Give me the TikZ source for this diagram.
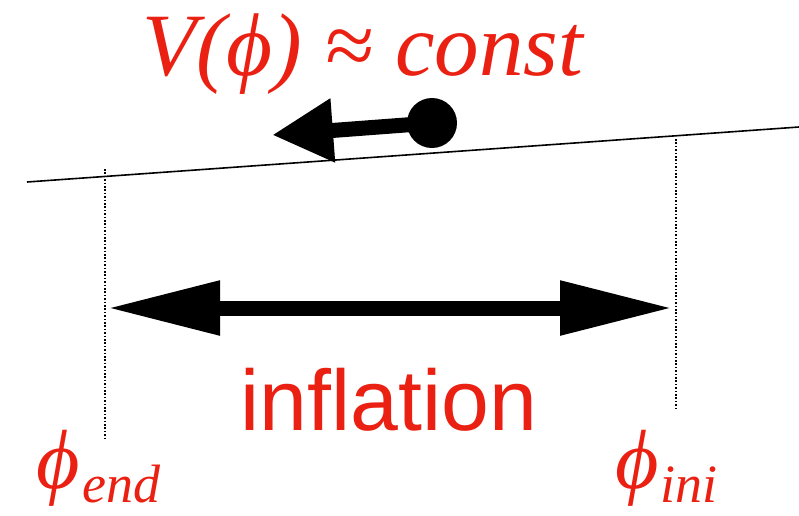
\documentclass[tikz,border=0pt]{standalone}
\usepackage{fontspec}
\setmainfont{Liberation Serif}
\newfontfamily\labelsans{Liberation Sans}
\usetikzlibrary{arrows.meta}
\definecolor{keyred}{RGB}{234,32,18}
\tikzset{
  redtext/.style={text=keyred, inner sep=0pt},
  guide/.style={line width=1.6pt, dash pattern=on 1.6pt off 1.8pt},
  slope/.style={line width=1.6pt},
  fatarrow/.style={line width=15pt},
}
\begin{document}
\begin{tikzpicture}[x=1pt,y=-1pt]
\useasboundingbox (0,0) rectangle (799,515);
% potential line
\coordinate (sL) at (27,182);
\coordinate (sR) at (799,127);
\draw[slope] (sL) -- (sR);
% dotted guides
\coordinate (gLt) at (105,169);
\coordinate (gLb) at (105,439);
\coordinate (gRt) at (676,139);
\coordinate (gRb) at (676,409);
\draw[guide] (gLt) -- (gLb);
\draw[guide] (gRt) -- (gRb);
% ball and arrow
\node[circle, fill=black, minimum size=50pt, inner sep=0pt] (ball) at (432,123) {};
\coordinate (tip) at (272,135);
\draw[fatarrow, -{Triangle[length=61pt,width=60pt]}] (ball.center) -- (tip);
% big double arrow
\coordinate (aL) at (107,308);
\coordinate (aR) at (673,308);
\draw[fatarrow, {Triangle[length=113pt,width=51pt]}-{Triangle[length=113pt,width=51pt]}] (aL) -- (aR);
% texts
\node[redtext, anchor=base west] (vphi) at (142,75) {\fontsize{89}{89}\selectfont\itshape V(ϕ) ≈ const};
\node[redtext, anchor=base] (infl) at (389,430) {\labelsans\fontsize{86}{86}\selectfont inflation};
\node[redtext, anchor=base west] (phend) at (36,488) {\itshape\fontsize{84}{84}\selectfont ϕ\kern3pt\fontsize{54}{54}\selectfont\raisebox{-14pt}{end}};
\node[redtext, anchor=base west] (phini) at (615,488) {\itshape\fontsize{84}{84}\selectfont ϕ\kern2pt\fontsize{54}{54}\selectfont\raisebox{-14pt}{ini}};
\end{tikzpicture}
\end{document}
